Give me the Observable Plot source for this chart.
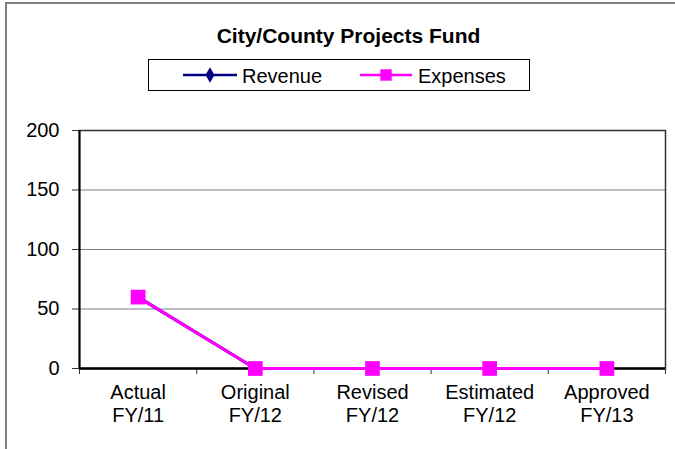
<!DOCTYPE html>
<html>
<head>
<meta charset="utf-8">
<script src="https://cdn.jsdelivr.net/npm/d3@7"></script>
<script src="https://cdn.jsdelivr.net/npm/@observablehq/plot@0.6"></script>
<style>
  html, body { margin: 0; padding: 0; background: #fff; }
  body { width: 675px; height: 449px; overflow: hidden; position: relative; font-family: "Liberation Sans", Arial, sans-serif; }
  #frame { position: absolute; left: 5px; top: 2px; width: 700px; height: 460px; border-left: 2px solid #808080; border-top: 2px solid #808080; pointer-events: none; }
  #chart { position: absolute; left: 0; top: 0; }
  #title { position: absolute; left: 0; width: 697px; top: 24px; text-align: center; font-weight: bold; font-size: 21px; line-height: 24px; color: #000; }
  #legend { position: absolute; left: 148px; top: 59px; width: 380px; height: 30px; border: 1px solid #000; background: #fff; }
  #legend svg { position: absolute; left: 0; top: 0; }
</style>
</head>
<body>
<div id="chart"></div>
<div id="title"></div>
<div id="legend"></div>
<div id="frame"></div>
<script>
const title = "City/County Projects Fund";
const categories = ["Actual\nFY/11", "Original\nFY/12", "Revised\nFY/12", "Estimated\nFY/12", "Approved\nFY/13"];
const revenue = [60, 0, 0, 0, 0];
const expenses = [60, 0, 0, 0, 0];
const yTicks = [0, 50, 100, 150, 200];
const seriesNames = ["Revenue", "Expenses"];
const colors = ["#000080", "#FF00FF"];

const revData = categories.map((c, i) => ({i: i + 0.5, c, v: revenue[i]}));
const expData = categories.map((c, i) => ({i: i + 0.5, c, v: expenses[i]}));

const plot = Plot.plot({
  width: 675,
  height: 449,
  marginLeft: 79,
  marginRight: 10,
  marginTop: 130,
  marginBottom: 81,
  style: {fontFamily: "'Liberation Sans', Arial, sans-serif", fontSize: "20px", color: "#000", background: "transparent"},
  x: {type: "linear", domain: [0, categories.length], label: null},
  y: {domain: [0, 200], label: null},
  marks: [
    Plot.gridY([50, 100, 150], {stroke: "#808080", strokeOpacity: 1, strokeWidth: 1}),
    Plot.frame({stroke: "#333", strokeWidth: 1.5}),
    Plot.axisY({ticks: yTicks, tickSize: 7, tickPadding: 13, fontSize: 20, stroke: "#333", label: null}),
    Plot.axisX({ticks: d3.range(categories.length + 1), tickSize: 6, tickFormat: () => "", stroke: "#333", label: null}),
    Plot.axisX({ticks: categories.map((c, i) => i + 0.5), tickSize: 0, tickPadding: 14, fontSize: 20, lineHeight: 1.15, label: null,
                tickFormat: (d) => categories[Math.round(d - 0.5)]}),
    Plot.ruleX([0], {stroke: "#000", strokeWidth: 2}),
    Plot.ruleY([0], {stroke: "#000", strokeWidth: 2.5}),
    Plot.line(revData, {x: "i", y: "v", stroke: colors[0], strokeWidth: 3}),
    Plot.dot(revData, {x: "i", y: "v", symbol: "diamond", r: 4, fill: colors[0], stroke: "none"}),
    Plot.line(expData, {x: "i", y: "v", stroke: colors[1], strokeWidth: 3}),
    Plot.dot(expData, {x: "i", y: "v", symbol: "square", r: 8.3, fill: colors[1], stroke: "none"})
  ]
});
document.getElementById("chart").appendChild(plot);
document.getElementById("title").textContent = title;

// Legend
const lg = d3.select("#legend").append("svg").attr("width", 380).attr("height", 30);
const items = [
  {name: seriesNames[0], color: colors[0], sym: d3.symbolDiamond, size: 70, x0: 34, x1: 88, tx: 93},
  {name: seriesNames[1], color: colors[1], sym: d3.symbolSquare, size: 130, x0: 211, x1: 263, tx: 269}
];
items.forEach(it => {
  lg.append("line").attr("x1", it.x0).attr("x2", it.x1).attr("y1", 15).attr("y2", 15)
    .attr("stroke", it.color).attr("stroke-width", 2.5);
  lg.append("path").attr("d", d3.symbol(it.sym, it.size)())
    .attr("transform", `translate(${(it.x0 + it.x1) / 2},15)`).attr("fill", it.color);
  lg.append("text").attr("x", it.tx).attr("y", 22.5).text(it.name)
    .attr("font-size", 20).attr("font-family", "'Liberation Sans', Arial, sans-serif").attr("fill", "#000");
});
</script>
</body>
</html>
